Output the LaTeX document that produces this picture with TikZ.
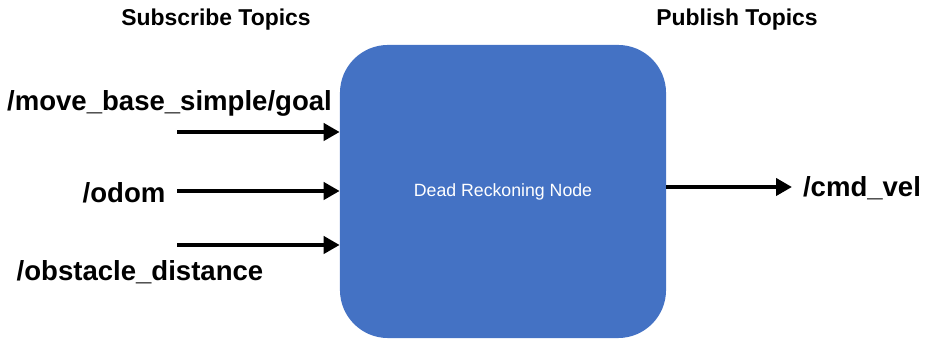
\documentclass[tikz,border=0pt]{standalone}
\usepackage{fontspec}
\setmainfont{Liberation Sans}
\usepackage{xcolor}
\usepackage{tikz}
\usetikzlibrary{arrows.meta,positioning,calc}

\definecolor{nodeblue}{HTML}{4472C4}

\begin{document}
\begin{tikzpicture}[
    x=0.025cm, y=-0.025cm,
    rosnode/.style={fill=nodeblue, rounded corners=1.2cm, minimum width=8.15cm, minimum height=7.325cm, text=white, font=\fontsize{12.6}{15}\selectfont},
    topic/.style={font=\bfseries\fontsize{19.6}{23}\selectfont},
    heading/.style={font=\bfseries\fontsize{16.3}{20}\selectfont},
    arrow/.style={-{Triangle[length=0.4cm,width=0.425cm]}, line width=3.5pt}
]
\useasboundingbox (0,0) rectangle (930,339);

% Headings
\node[heading] (subhead) at (216,20) {Subscribe Topics};
\node[heading] (pubhead) at (737,20) {Publish Topics};

% Node
\node[rosnode] (dr) at (503,191.5) {Dead Reckoning Node};

% Subscribed topics
\node[topic] (goal) at (169.5,103) {/move\_base\_simple/goal};
\node[topic] (odom) at (124,193) {/odom};
\node[topic] (obst) at (140,272) {/obstacle\_distance};

% Published topic
\node[topic] (cmd) at (862,188) {/cmd\_vel};

% Arrow starts
\coordinate (in1) at (177,132);
\coordinate (in2) at (177,191);
\coordinate (in3) at (177,245);
\coordinate (out) at (792,187);

% Arrows
\draw[arrow] (in1) -- (dr.west |- in1);
\draw[arrow] (in2) -- (dr.west |- in2);
\draw[arrow] (in3) -- (dr.west |- in3);
\draw[arrow] (dr.east |- out) -- (out);

\end{tikzpicture}
\end{document}
